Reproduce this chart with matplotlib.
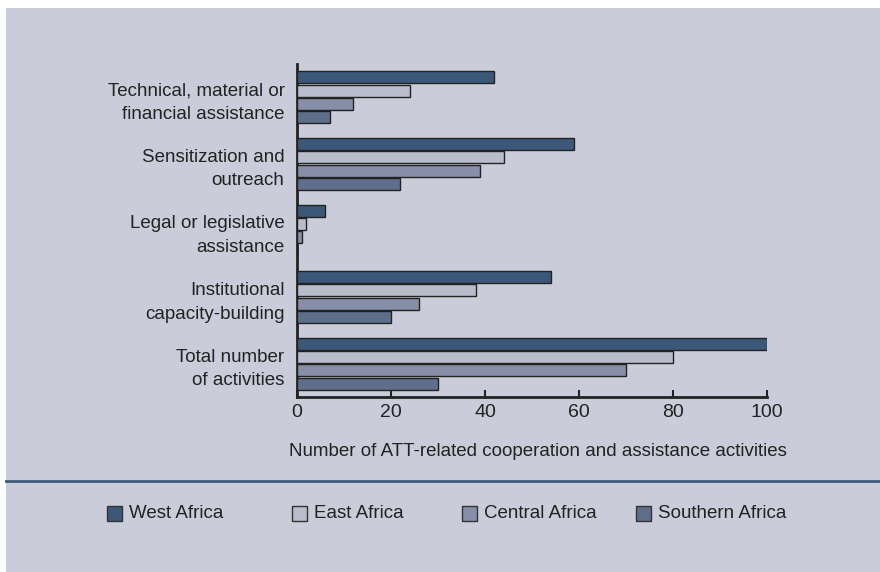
import matplotlib
matplotlib.use("Agg")
import matplotlib.pyplot as plt
from matplotlib.patches import Rectangle
import numpy as np

categories = ["Technical, material or\nfinancial assistance",
              "Sensitization and\noutreach",
              "Legal or legislative\nassistance",
              "Institutional\ncapacity-building",
              "Total number\nof activities"]
series_names = ["West Africa", "East Africa", "Central Africa", "Southern Africa"]
west = [42, 59, 6, 54, 100]
east = [24, 44, 2, 38, 80]
central = [12, 39, 1, 26, 70]
southern = [7, 22, 0, 20, 30]
xticks = [0, 20, 40, 60, 80, 100]
xlabel = "Number of ATT-related cooperation and assistance activities"

colors = ["#3b5878", "#b9bccb", "#868ea8", "#5f6e8a"]
bg = "#cacdd9"

plt.rcParams['font.family'] = ['Liberation Sans', 'DejaVu Sans']

W, H = 880, 572
fig = plt.figure(figsize=(W/100, H/100), dpi=100)
fig.patch.set_facecolor("white")

bgax = fig.add_axes([6/W, 0, 1 - 6/W, 1 - 8/H], zorder=-10)
bgax.set_facecolor(bg)
bgax.set_axis_off()
bgax.add_patch(Rectangle((0, 0), 1, 1, transform=bgax.transAxes, facecolor=bg, edgecolor="none"))

ax = fig.add_axes([297/W, 1 - 397/H, 470/W, 333/H], zorder=1)
ax.set_facecolor("none")

series = [west, east, central, southern]
n = len(categories)
pos = np.arange(n)
step = 0.2
h = 0.18
for i, (vals, c) in enumerate(zip(series, colors)):
    y = pos + (i - 1.5) * step
    ax.barh(y, vals, height=h, color=c, edgecolor="#222222", linewidth=1.0, zorder=3)

ax.set_ylim(n - 0.5, -0.5)
ax.set_xlim(0, 100)
ax.set_yticks(pos)
ax.set_yticklabels(categories, fontsize=13.5, color="#222222", linespacing=1.5, ha="right")
ax.set_xticks(xticks)
ax.set_xticklabels([str(t) for t in xticks], fontsize=14, color="#222222")
ax.tick_params(axis="y", length=0, pad=9)
ax.tick_params(axis="x", direction="in", length=5, width=1.5, color="#222222", pad=5)
for s in ["top", "right"]:
    ax.spines[s].set_visible(False)
for s in ["left", "bottom"]:
    ax.spines[s].set_linewidth(2)
    ax.spines[s].set_color("#222222")

fig.text(538/W, 1 - 452/H, xlabel, fontsize=13.5, color="#222222", ha="center", va="center")

# separator line
fig.add_artist(plt.Line2D([6/W, 1], [1 - 481/H, 1 - 481/H], transform=fig.transFigure,
                          color="#3d5a7a", linewidth=2))

# legend
leg_x = [107, 292, 462, 636]
ly = 513
sq = 15
for x, name, c in zip(leg_x, series_names, colors):
    fig.patches.append(Rectangle((x/W, 1 - (ly + sq/2)/H), sq/W, sq/H, transform=fig.transFigure,
                                 facecolor=c, edgecolor="#333333", linewidth=1.0, zorder=3))
    fig.text((x + sq + 7)/W, 1 - ly/H, name, fontsize=13.5, color="#222222", ha="left", va="center")

fig.savefig("out.png", dpi=100)
